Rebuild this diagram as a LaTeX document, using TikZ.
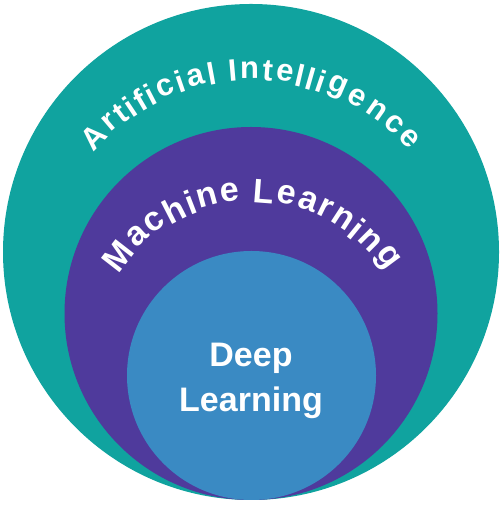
\documentclass[tikz,border=0pt]{standalone}
\usepackage{fontspec}
\setmainfont{Liberation Sans}
\usetikzlibrary{decorations.text}
\definecolor{aiteal}{HTML}{10A39F}
\definecolor{mlpurple}{HTML}{4F3A9C}
\definecolor{dlblue}{HTML}{3A8AC3}
\newcommand\aifont{\bfseries\fontsize{31}{31}\selectfont}
\newcommand\mlfont{\bfseries\fontsize{34}{34}\selectfont}
\newcommand\dlfont{\bfseries\fontsize{34}{34}\selectfont}
\tikzset{
  ring/.style={circle, inner sep=0pt, outer sep=0pt},
  lbl/.style={text=white, inner sep=0pt, anchor=base, font=\dlfont},
  arcchar/.style={text=white, inner sep=0pt, transform shape},
}
\begin{document}
\begin{tikzpicture}[x=1pt,y=1pt]
\useasboundingbox (0,0) rectangle (502,505);
\node[ring, fill=aiteal, minimum size=496pt] (ai) at (251,253) {};
\node[ring, fill=mlpurple, minimum size=373pt] (ml) at (251,191.5) {};
\node[ring, fill=dlblue, minimum size=249pt] (dl) at (251.5,129.5) {};
\path[decorate, decoration={text effects along path, text={Artificial Intelligence}, text effects/.cd, fit text to path, every character/.style={arcchar, font=\aifont}}]
  (251,217) ++(139:218) arc[start angle=139, end angle=41, radius=218];
\path[decorate, decoration={text effects along path, text={Machine Learning}, text effects/.cd, fit text to path, every character/.style={arcchar, font=\mlfont}}]
  (251,146) ++(147:168) arc[start angle=147, end angle=33, radius=168];
\node[lbl] (deep) at (251,138) {Deep};
\node[lbl] (learning) at (251,93) {Learning};
\end{tikzpicture}
\end{document}
